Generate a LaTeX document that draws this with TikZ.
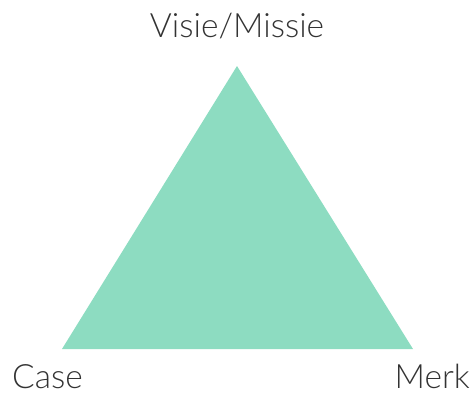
\documentclass[tikz,border=0pt]{standalone}
\usepackage{fontspec}
\setmainfont{Lato}[UprightFont={* Light}]
\usepackage{tikz}
\usetikzlibrary{positioning}
\definecolor{mint}{HTML}{8DDCC1}
\definecolor{labelgray}{HTML}{333333}

\begin{document}
\begin{tikzpicture}[x=1pt, y=-1pt,
    corner/.style={font=\fontsize{33.5}{36}\selectfont, text=labelgray, inner sep=0pt, text depth=0pt}]
\useasboundingbox (0,0) rectangle (475,394);
% Triangle
\coordinate (top) at (237,66);
\coordinate (left) at (62,349);
\coordinate (right) at (413,349);
\fill[mint] (top) -- (left) -- (right) -- cycle;

% Labels
\node[corner, anchor=base] (visie) at (237,37) {Visie/Missie};
\node[corner, anchor=base west] (case) at (12,388) {Case};
\node[corner, anchor=base east] (merk) at (470,388) {Merk};
\end{tikzpicture}
\end{document}
